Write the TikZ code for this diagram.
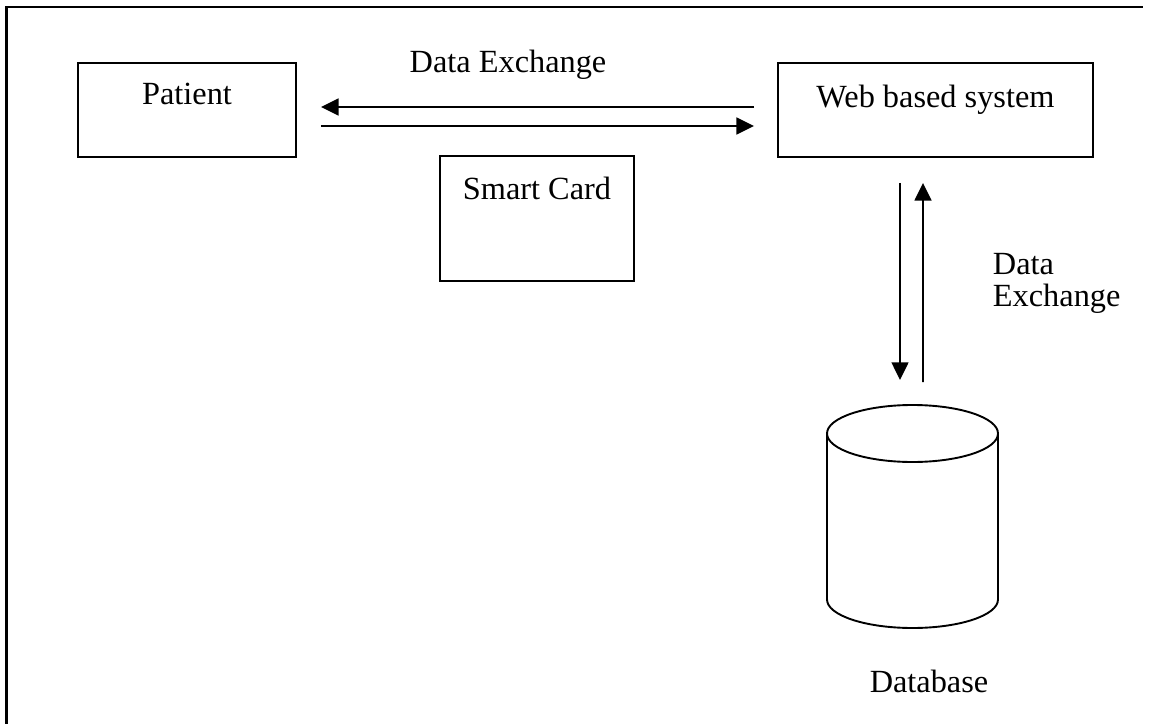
\documentclass[tikz,border=0pt]{standalone}
\usepackage{fontspec}
\setmainfont{Liberation Serif}
\usetikzlibrary{arrows.meta}

\begin{document}
\begin{tikzpicture}[line width=1.35pt,font=\fontsize{23}{22.7}\selectfont,
  box/.style ={draw,minimum height=2.35cm,inner sep=0pt},
  arr/.style ={-{Triangle[length=0.44cm,width=0.42cm]}}]

\useasboundingbox (0,0) rectangle (28.775,-18.1);

%frame
\draw [line width=1.8pt] (0.16,-18.2) -- (0.16,-0.17) -- (28.575,-0.17);

\node[box,minimum width=5.45cm,label={[anchor=north,inner sep=0pt,yshift=-0.5cm]north:Patient}] (Pat) at (4.675,-2.75) {};
\node[box,minimum width=7.875cm,label={[anchor=north,inner sep=0pt,yshift=-0.56cm]north:Web based system}] (Web) at (23.3875,-2.75) {};
\node[box,minimum width=4.85cm,minimum height=3.125cm,label={[anchor=north,inner sep=0pt,yshift=-0.52cm]north:Smart Card}] (Card) at (13.425,-5.4625) {};

\node[anchor=base] (DE1) at (12.7,-1.825) {Data Exchange};
\draw [arr] ([xshift=-0.575cm,yshift=0.075cm]Web.west) -- ([xshift=0.6cm,yshift=0.075cm]Pat.east);
\draw [arr] ([xshift=0.6cm,yshift=-0.4cm]Pat.east) -- ([xshift=-0.575cm,yshift=-0.4cm]Web.west);

%database
\coordinate (DBtop) at (22.8125,-10.125);
\draw (20.675,-10.8375) -- (20.675,-14.9875) arc[start angle=180,end angle=360,x radius=2.1375,y radius=0.7125] -- (24.95,-10.8375);
\draw (22.8125,-10.8375) ellipse [x radius=2.1375,y radius=0.7125];
\node[anchor=base] (DB) at (23.225,-17.3) {Database};

\draw [arr] ([xshift=-0.8875cm,yshift=-0.625cm]Web.south) -- ([xshift=-0.3125cm,yshift=0.625cm]DBtop);
\draw [arr] ([xshift=0.2625cm,yshift=0.575cm]DBtop) -- ([xshift=-0.3125cm,yshift=-0.625cm]Web.south);
\node[anchor=north west,align=left,inner sep=0pt] (DE2) at (24.8,-6.3) {Data\\Exchange};
\end{tikzpicture}
\end{document}
